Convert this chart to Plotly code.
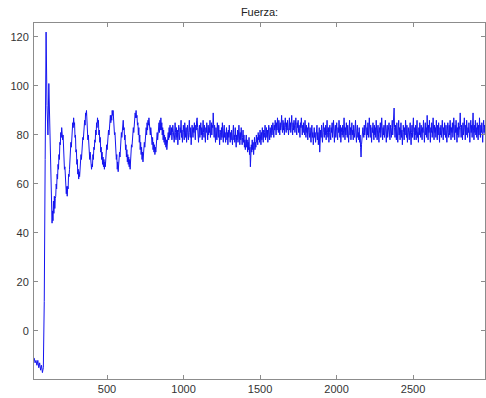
import plotly.graph_objects as go

# impact part of the record: sample start / spacing
inicio_x0 = 24
inicio_paso = 6
fuerza_inicio = [
    -11, -13, -12, -14, -12, -15, -13, -16, -14, -17,
    -15, 12, 70, 122, 92, 80, 101, 84, 62,
]

# damped oscillations: sample start / spacing
oscil_x0 = 135
oscil_paso = 3
fuerza_oscilacion = [
    52, 46, 44, 49, 45, 53, 48, 55, 50, 54,
    55, 60, 58, 64, 62, 68, 66, 72, 70, 77,
    76, 81, 79, 83, 81, 78, 80, 73, 74, 66,
    67, 61, 62, 56, 59, 55, 59, 58, 64, 63,
    66, 72, 71, 77, 75, 81, 79, 85, 83, 87,
    84, 85, 79, 80, 73, 74, 68, 70, 64, 66,
    62, 65, 63, 68, 66, 72, 70, 76, 74, 79,
    78, 83, 81, 86, 84, 89, 88, 90, 83, 84,
    78, 80, 73, 75, 70, 73, 68, 71, 66, 68,
    67, 72, 70, 75, 74, 78, 77, 82, 80, 85,
    83, 87, 85, 86, 80, 82, 77, 79, 73, 75,
    70, 73, 68, 71, 67, 70, 66, 69, 67, 72,
    71, 76, 74, 79, 78, 82, 80, 84, 83, 88,
    85, 88, 86, 90, 88, 90, 84, 86, 80, 81,
    75, 76, 70, 72, 66, 69, 65, 68, 69, 73,
    71, 77, 76, 81, 79, 84, 82, 86, 82, 83,
    78, 80, 74, 76, 71, 74, 69, 72, 68, 71,
    67, 70, 66, 71, 70, 76, 75, 80, 78, 83,
    81, 86, 84, 89, 87, 90, 87, 88, 84, 85,
    80, 83, 77, 80, 74, 77, 72, 75, 70, 73,
    69, 73, 72, 77, 75, 80, 78, 83, 80, 85,
    82, 86, 84, 87, 83, 85, 80, 83, 78, 81,
    76, 79, 74, 77, 73, 76, 72, 75, 73, 78,
    76, 81, 78, 83, 80, 85, 81, 86, 82, 87,
    82, 85, 80, 83, 78, 82, 77, 80, 76, 79,
    75, 78, 74, 79, 76, 81, 78, 83, 79, 84, 80,
]

# noisy steady state: sample start / spacing
estable_x0 = 918
estable_paso = 3
fuerza_estable = [
    80, 83, 78, 81, 84, 79, 82, 77, 80, 85, 81, 78,
    83, 79, 82, 76, 81, 84, 80, 78, 83, 81, 86, 79,
    82, 77, 80, 84, 81, 78, 85, 82, 79, 83, 77, 81,
    84, 80, 78, 82, 86, 81, 79, 83, 76, 80, 84, 82,
    79, 83, 81, 85, 80, 78, 84, 82, 86, 87, 83, 80,
    77, 82, 84, 79, 81, 85, 80, 83, 78, 82, 86, 81,
    79, 84, 80, 77, 83, 81, 85, 82, 78, 84, 80, 83,
    81, 86, 79, 82, 85, 80, 84, 83, 89, 82, 79, 84,
    80, 77, 83, 81, 78, 85, 82, 79, 84, 80, 76, 82,
    81, 78, 83, 79, 85, 80, 77, 82, 84, 79, 81, 77,
    80, 83, 78, 81, 76, 82, 79, 84, 80, 77, 81, 78,
    82, 79, 76, 81, 84, 78, 80, 77, 83, 79, 75, 80,
    78, 82, 77, 80, 84, 79, 76, 81, 78, 83, 80, 76,
    79, 82, 77, 80, 75, 78, 74, 77, 80, 75, 78, 73,
    77, 74, 79, 72, 75, 67, 71, 76, 73, 78, 74, 77,
    72, 76, 79, 74, 77, 75, 80, 77, 79, 76, 81, 78,
    80, 77, 82, 79, 76, 81, 78, 83, 80, 77, 82, 79,
    81, 84, 78, 80, 83, 79, 82, 77, 81, 84, 80, 78,
    83, 81, 79, 84, 80, 82, 85, 81, 79, 84, 82, 86,
    83, 80, 85, 82, 87, 84, 81, 86, 83, 80, 85, 82,
    84, 88, 83, 81, 86, 82, 85, 80, 84, 87, 83, 81,
    85, 82, 86, 84, 80, 83, 87, 82, 85, 81, 84, 88,
    83, 80, 85, 82, 86, 83, 81, 84, 87, 82, 80, 85,
    83, 86, 81, 84, 82, 79, 85, 83, 87, 82, 80, 84,
    81, 85, 83, 80, 86, 82, 79, 84, 81, 83, 78, 82,
    85, 81, 79, 83, 80, 77, 82, 84, 79, 81, 76, 80,
    83, 79, 81, 77, 82, 80, 84, 78, 81, 76, 80, 83,
    73, 78, 82, 79, 84, 80, 77, 82, 85, 81, 79, 83,
    80, 84, 78, 82, 86, 81, 79, 83, 77, 81, 84, 80,
    78, 83, 81, 85, 79, 82, 86, 80, 77, 82, 84, 79,
    81, 85, 80, 78, 83, 81, 86, 82, 79, 84, 77, 81,
    83, 80, 84, 79, 82, 87, 81, 78, 83, 80, 85, 82,
    79, 84, 81, 77, 82, 86, 80, 83, 78, 81, 85, 80,
    82, 78, 84, 81, 79, 83, 86, 80, 77, 82, 84, 79,
    81, 78, 83, 77, 80, 75, 71, 76, 80, 78, 83, 81,
    79, 84, 80, 82, 86, 81, 78, 83, 80, 85, 79, 82,
    87, 81, 79, 84, 80, 77, 83, 81, 85, 82, 78, 84,
    80, 83, 79, 86, 81, 78, 82, 84, 80, 77, 83, 81,
    85, 79, 82, 87, 81, 78, 83, 80, 84, 79, 82, 86,
    80, 77, 82, 84, 79, 83, 81, 85, 80, 78, 84, 81,
    79, 83, 86, 80, 84, 82, 91, 83, 79, 84, 81, 78,
    85, 80, 77, 82, 86, 80, 83, 78, 81, 85, 79, 82,
    76, 80, 84, 81, 78, 83, 80, 86, 82, 79, 84, 77,
    81, 83, 80, 78, 82, 85, 80, 76, 81, 84, 79, 82,
    87, 81, 78, 83, 80, 84, 78, 82, 86, 79, 81, 77,
    83, 80, 85, 82, 79, 84, 80, 78, 83, 81, 86, 80,
    77, 82, 85, 80, 83, 79, 88, 82, 78, 84, 81, 86,
    80, 77, 83, 81, 85, 79, 82, 87, 80, 78, 84, 81,
    83, 79, 86, 82, 78, 84, 80, 85, 81, 77, 83, 80,
    84, 79, 82, 86, 81, 78, 83, 80, 85, 82, 79, 84,
    80, 77, 82, 85, 81, 79, 84, 80, 86, 82, 78, 83,
    81, 85, 79, 82, 87, 80, 78, 84, 81, 86, 80, 77,
    83, 80, 85, 79, 82, 84, 89, 83, 79, 84, 81, 78,
    85, 80, 83, 87, 81, 78, 84, 80, 86, 82, 79, 83,
    81, 85, 80, 77, 82, 86, 81, 84, 79, 83, 89, 82,
    78, 84, 81, 86, 80, 83, 79, 85, 82, 78, 84, 80,
    87, 82, 79, 84, 81, 85, 80, 77, 83, 86, 81, 84,
    80,
]

muestras = ([inicio_x0 + inicio_paso * i for i in range(len(fuerza_inicio))]
            + [oscil_x0 + oscil_paso * k for k in range(len(fuerza_oscilacion))]
            + [estable_x0 + estable_paso * j for j in range(len(fuerza_estable))])
fuerza = fuerza_inicio + fuerza_oscilacion + fuerza_estable

x_ticks = [0, 500, 1000, 1500, 2000, 2500, 3000]
y_ticks = [-20, 0, 20, 40, 60, 80, 100, 120]
titulo = "Fuerza:"

fig = go.Figure()
fig.add_trace(go.Scatter(
    x=muestras, y=fuerza, mode="lines",
    line=dict(color="rgb(20,20,240)", width=1),
    showlegend=False, hoverinfo="skip",
))

axis_common = dict(
    showgrid=False, zeroline=False, automargin=False,
    showline=True, linecolor="#8c8c8c", linewidth=1,
    mirror="ticks", ticks="inside", ticklen=4, tickcolor="#8c8c8c",
    tickfont=dict(family="Liberation Sans, Arial", size=11, color="#333333"),
)

fig.update_layout(
    width=486, height=398,
    margin=dict(l=34, r=1, t=23, b=19),
    paper_bgcolor="white", plot_bgcolor="white",
    title=dict(text=titulo, x=0.534, xanchor="center", y=0.97, yanchor="middle",
               yref="container",
               font=dict(family="Liberation Sans, Arial", size=11, color="#222222")),
    xaxis=dict(range=[23, 2970], tickvals=x_ticks, **axis_common),
    yaxis=dict(range=[-19.6, 125.7], tickvals=y_ticks, ticklabelstandoff=2, **axis_common),
)

fig.write_html("out.html", config={"displayModeBar": False},
               post_script="document.body.style.margin='0px';")
